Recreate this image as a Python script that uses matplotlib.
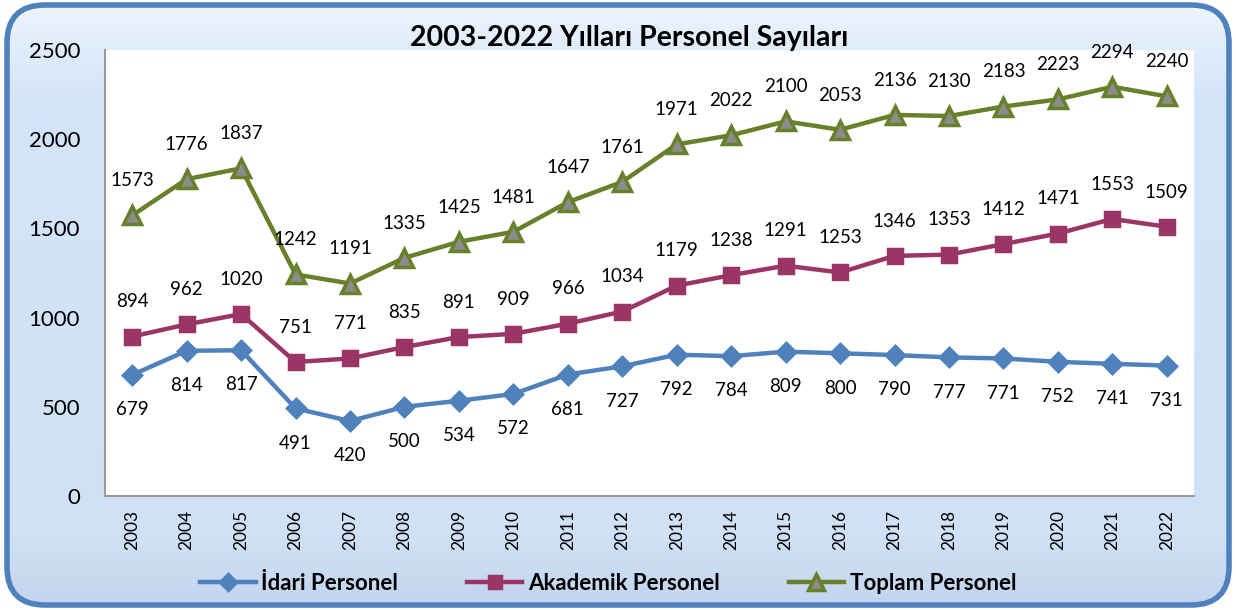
import numpy as np
import matplotlib
matplotlib.use("Agg")
import matplotlib.pyplot as plt
from matplotlib.patches import FancyBboxPatch
from matplotlib.colors import LinearSegmentedColormap

plt.rcParams['font.family'] = ['Lato', 'DejaVu Sans']

years = [str(y) for y in range(2003, 2023)]
idari = [679, 814, 817, 491, 420, 500, 534, 572, 681, 727,
         792, 784, 809, 800, 790, 777, 771, 752, 741, 731]
akademik = [894, 962, 1020, 751, 771, 835, 891, 909, 966, 1034,
            1179, 1238, 1291, 1253, 1346, 1353, 1412, 1471, 1553, 1509]
toplam = [1573, 1776, 1837, 1242, 1191, 1335, 1425, 1481, 1647, 1761,
          1971, 2022, 2100, 2053, 2136, 2130, 2183, 2223, 2294, 2240]
yticks = [0, 500, 1000, 1500, 2000, 2500]

W, H = 1236, 610
fig = plt.figure(figsize=(W / 100, H / 100), dpi=100)
fig.patch.set_facecolor('white')

# rounded frame with soft blue gradient
bg = fig.add_axes([0, 0, 1, 1])
bg.set_xlim(0, W)
bg.set_ylim(0, H)
bg.axis('off')
frame = FancyBboxPatch((7, 5), W - 14, H - 10,
                       boxstyle="round,pad=0,rounding_size=38",
                       facecolor='none', edgecolor='#4F81BD', lw=4, zorder=3)
bg.add_patch(frame)
grad = np.linspace(0, 1, 256).reshape(-1, 1)
cmap = LinearSegmentedColormap.from_list(
    'bgc', [(0, '#C2D4EC'), (0.12, '#D0E1F6'), (0.85, '#D5E5F9'), (1, '#EEF5FD')])
im = bg.imshow(grad, extent=[0, W, 0, H], origin='lower', cmap=cmap,
               aspect='auto', zorder=1)
im.set_clip_path(frame)

ax = fig.add_axes([105 / W, 1 - 496 / H, (1194 - 105) / W, (496 - 50) / H])
ax.set_facecolor('white')
x = np.arange(len(years))

series = [
    ('İdari Personel', idari, '#4F81BD', 'D', 9, '#4F81BD', -25),
    ('Akademik Personel', akademik, '#9B3566', 's', 10, '#9B3566', 25),
    ('Toplam Personel', toplam, '#67802A', '^', 13, '#8C8C8C', 25),
]
for name, vals, col, mk, ms, fc, off in series:
    ax.plot(x, vals, color=col, lw=3.2, marker=mk, ms=ms,
            markerfacecolor=fc, markeredgecolor=col, markeredgewidth=2.5,
            label=name, zorder=3)
    for xi, v in zip(x, vals):
        ax.annotate(str(v), (xi, v), xytext=(0, off), textcoords='offset points',
                    ha='center', va='center', fontsize=13.5, color='black')

ax.set_xlim(-0.5, len(years) - 0.5)
ax.set_ylim(0, 2500)
ax.set_yticks(yticks)
ax.set_xticks(x)
ax.set_xticklabels(years, rotation=90, fontsize=12.5)
ax.tick_params(axis='y', length=0, pad=18, labelsize=16)
ax.tick_params(axis='x', length=0, pad=10)
for s in ['top', 'right']:
    ax.spines[s].set_visible(False)
for s in ['left', 'bottom']:
    ax.spines[s].set_color('#9A9A9A')
    ax.spines[s].set_linewidth(1.5)

fig.text(0.509, 1 - 38 / H, '2003-2022 Yılları Personel Sayıları',
         ha='center', va='center', fontsize=20.5, fontweight='bold')

leg = fig.legend(loc='center', bbox_to_anchor=(0.492, 1 - 583 / H), ncol=3,
                 frameon=False, prop={'weight': 'bold', 'size': 16},
                 handlelength=2.5, columnspacing=3.1, handletextpad=0.25,
                 markerscale=0.85)

fig.savefig('out.png', dpi=100)
